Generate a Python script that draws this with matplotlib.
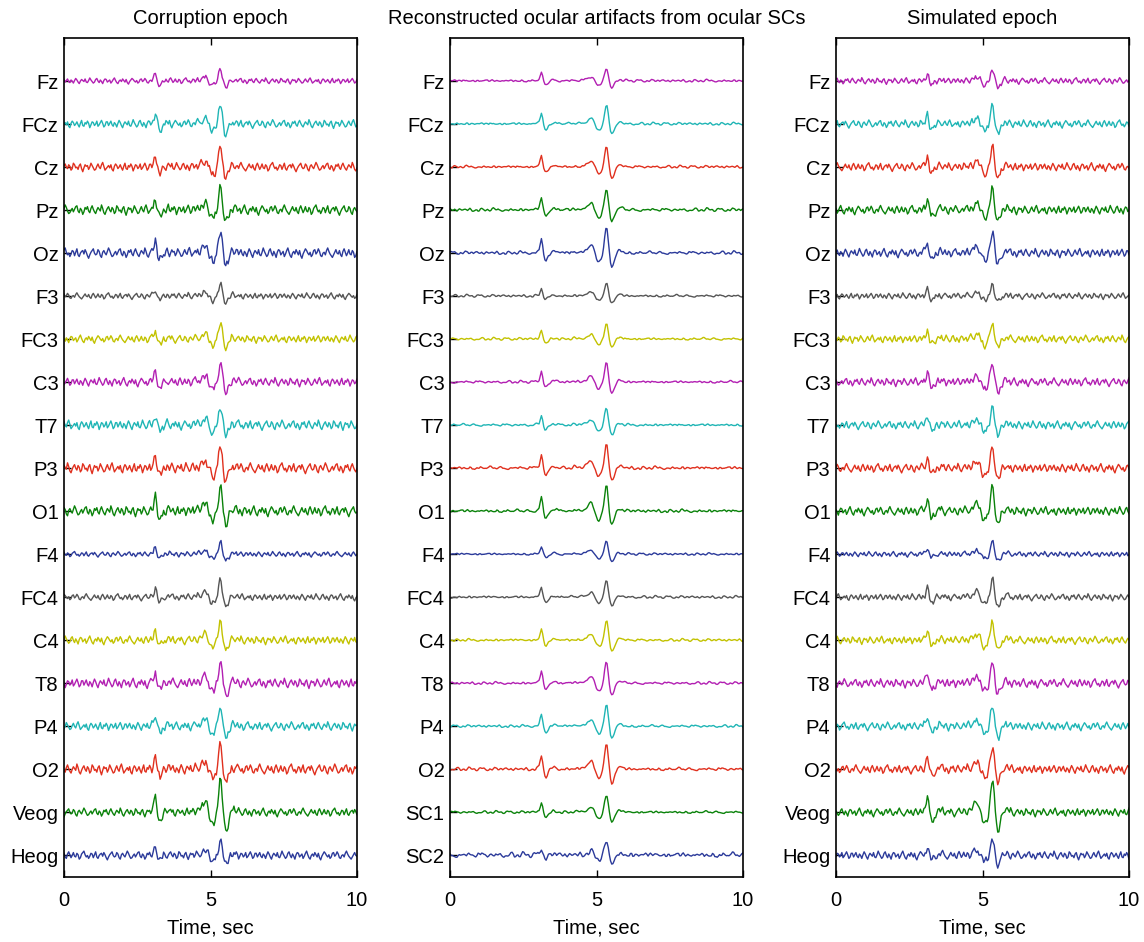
import numpy as np
import matplotlib
matplotlib.use("Agg")
import matplotlib.pyplot as plt

plt.rcParams['font.family'] = ['Liberation Sans', 'DejaVu Sans']

# ---------------- data ----------------
TITLES = ["Corruption epoch", "Reconstructed ocular artifacts from ocular SCs", "Simulated epoch"]
LABELS_LEFT = ["Fz", "FCz", "Cz", "Pz", "Oz", "F3", "FC3", "C3", "T7", "P3", "O1",
               "F4", "FC4", "C4", "T8", "P4", "O2", "Veog", "Heog"]
LABELS_MID = ["Fz", "FCz", "Cz", "Pz", "Oz", "F3", "FC3", "C3", "T7", "P3", "O1",
              "F4", "FC4", "C4", "T8", "P4", "O2", "SC1", "SC2"]
LABELS_RIGHT = LABELS_LEFT
XTICKS = [0, 5, 10]
XLABEL = "Time, sec"

CH_COLORS = ["#b21fb2", "#1fb5b5", "#e0301e", "#0a820a", "#2b3a9a", "#555555", "#c2c200",
             "#b21fb2", "#1fb5b5", "#e0301e", "#0a820a", "#2b3a9a", "#555555", "#c2c200",
             "#b21fb2", "#1fb5b5", "#e0301e", "#0a820a", "#2b3a9a"]

# ocular artifact shape (normalised), sampled every 0.04 s from t = 2.80 s to 6.00 s
BLINK = [0.00, 0.00, 0.01, 0.02, 0.03, 0.05, 0.12, 0.35, 0.55, 0.30,
         -0.05, -0.25, -0.30, -0.24, -0.15, -0.07, -0.01, 0.03, 0.07, 0.08,
         0.07, 0.05, 0.03, 0.01, 0.00, 0.00, -0.01, 0.00, 0.01, 0.02,
         0.01, 0.00, -0.01, 0.00, 0.01, 0.02, 0.03, 0.02, 0.01, 0.02,
         0.03, 0.03, 0.04, 0.05, 0.06,
         0.08, 0.11, 0.15, 0.20, 0.25, 0.29, 0.30, 0.22, 0.08, -0.08,
         -0.22, -0.32, -0.36, -0.34, -0.25, -0.08, 0.20, 0.60, 0.95, 0.95,
         0.50, 0.00, -0.40, -0.55, -0.50, -0.36, -0.20, -0.06, 0.04, 0.09,
         0.10, 0.08, 0.05, 0.03, 0.01, 0.00]
BLINK_START = 2.80

# background EEG jitter, one value every 0.04 s over 10 s
NOISE = [3, -2, 1, 4, -1, -3, 2, 0, -4, 1, 5, 2, -2, -5, 0, 3, 1, -1, 4, -2,
         -3, 1, 6, 2, -1, -4, -2, 3, 5, 0, -3, 2, -1, -5, 1, 4, 3, -2, 0, 2,
         -4, -1, 3, 6, 1, -3, -5, 0, 2, -1, 4, 1, -2, 3, -3, -6, -1, 2, 5, 3,
         0, -2, 1, -4, -2, 3, 4, -1, 1, 5, 2, -3, -4, 0, 1, -2, 3, 6, 2, -1,
         -3, -5, -2, 1, 4, 0, -1, 3, -2, -4, 2, 5, 1, -3, 0, 4, -1, -2, 3, 1,
         -5, -3, 2, 4, 6, 1, -2, 0, -4, -1, 3, 2, -3, 1, 5, -2, -4, 0, 2, 3,
         -1, 4, 1, -3, -6, -2, 1, 3, 5, 0, -2, -1, 4, 2, -3, -5, 1, 3, 0, -2,
         2, 6, 3, -1, -4, -3, 0, 2, -2, 1, 4, 5, -1, -3, 2, 0, -5, -2, 3, 1,
         4, -1, -3, 2, 5, 1, -2, -4, 0, 3, 1, -1, 6, 2, -3, -5, -1, 2, 4, 0,
         -2, 3, 1, -4, -2, 5, 3, -1, 0, -3, 2, 4, -2, -6, -1, 3, 1, 2, -3, 0,
         5, 2, -1, -4, -3, 1, 4, 0, -2, 3, 6, 1, -4, -2, 0, 2, -1, 3, -3, -5,
         1, 4, 2, -2, 0, 3, -1, -4, 1, 5, -2, -3, 2, 0, 4, 1, -5, -1, 3, 2,
         -2, 0, 4, -3, -1, 2, 5, 1, -4, -2, 3]
DT = 0.04

# blink amplitude per channel (in channel-spacing units)
AMP_LEFT = [0.28, 0.45, 0.45, 0.50, 0.53, 0.27, 0.37, 0.46, 0.42, 0.50, 0.58,
            0.28, 0.42, 0.46, 0.49, 0.50, 0.55, 0.80, 0.33]
AMP_MID = [0.30, 0.45, 0.45, 0.50, 0.60, 0.30, 0.35, 0.45, 0.40, 0.55, 0.60,
           0.30, 0.40, 0.45, 0.50, 0.50, 0.60, 0.40, 0.30]
AMP_RIGHT = [0.28, 0.42, 0.45, 0.48, 0.52, 0.27, 0.37, 0.45, 0.42, 0.48, 0.56,
             0.28, 0.42, 0.45, 0.48, 0.48, 0.55, 0.80, 0.35]
# background noise level per channel
NZ_LEFT = [0.012, 0.017, 0.018, 0.020, 0.020, 0.013, 0.016, 0.018, 0.020, 0.021, 0.021,
           0.011, 0.014, 0.017, 0.020, 0.018, 0.021, 0.017, 0.017]
NZ_MID = [0.008, 0.008, 0.008, 0.010, 0.010, 0.008, 0.008, 0.008, 0.008, 0.010, 0.010,
          0.007, 0.008, 0.008, 0.008, 0.008, 0.010, 0.008, 0.016]
NZ_RIGHT = [0.013, 0.016, 0.017, 0.018, 0.018, 0.013, 0.016, 0.017, 0.017, 0.018, 0.018,
            0.011, 0.014, 0.016, 0.018, 0.017, 0.018, 0.017, 0.017]

# ---------------- build traces ----------------
noise = np.array(NOISE, dtype=float)
n = len(noise)
t = np.arange(n) * DT
blink = np.zeros(n)
i0 = int(round(BLINK_START / DT))
bl = np.array(BLINK)
m = max(0, min(len(bl), n - i0))
blink[i0:i0 + m] = bl[:m]

kern = np.ones(7) / 7.0
slow = np.convolve(np.concatenate([noise, noise]), kern, mode='same')


def traces(amps, nz, shift, smooth):
    out = []
    for k, (a, s) in enumerate(zip(amps, nz)):
        if smooth:
            src = np.roll(slow, shift + 23 * k)[:n] * 3.0
        else:
            src = np.roll(noise, shift + 37 * k)
        out.append(a * blink + s * src)
    return out


panels = [
    (LABELS_LEFT, traces(AMP_LEFT, NZ_LEFT, 0, False)),
    (LABELS_MID, traces(AMP_MID, NZ_MID, 11, True)),
    (LABELS_RIGHT, traces(AMP_RIGHT, NZ_RIGHT, 101, False)),
]

# ---------------- figure ----------------
fig = plt.figure(figsize=(11.44, 9.42), dpi=100)
lefts = [64 / 1144, 450 / 1144, 836 / 1144]
width = 293 / 1144
bottom = 1 - 877 / 942
height = (877 - 38) / 942

nch = len(LABELS_LEFT)
for p, (left, (labels, data), title) in enumerate(zip(lefts, panels, TITLES)):
    ax = fig.add_axes([left, bottom, width, height])
    for k, y in enumerate(data):
        base = nch - k
        ax.plot(t, base + y, color=CH_COLORS[k], lw=1.0)
    ax.set_xlim(0, 10)
    ax.set_ylim(0.5, nch + 1)
    ax.set_yticks([nch - k for k in range(nch)])
    ax.set_yticklabels(labels, fontsize=14.5)
    ax.set_xticks(XTICKS)
    ax.set_xticklabels([str(v) for v in XTICKS], fontsize=14.5)
    ax.tick_params(direction='in', top=True, right=False, length=5, width=1.0)
    ax.tick_params(axis='x', pad=10)
    ax.tick_params(axis='y', pad=4)
    for s in ax.spines.values():
        s.set_linewidth(1.2)
    ax.set_xlabel(XLABEL, fontsize=14.5, labelpad=6)
    ax.set_title(title, fontsize=14.5, pad=10)

fig.savefig("out.png", dpi=100)
